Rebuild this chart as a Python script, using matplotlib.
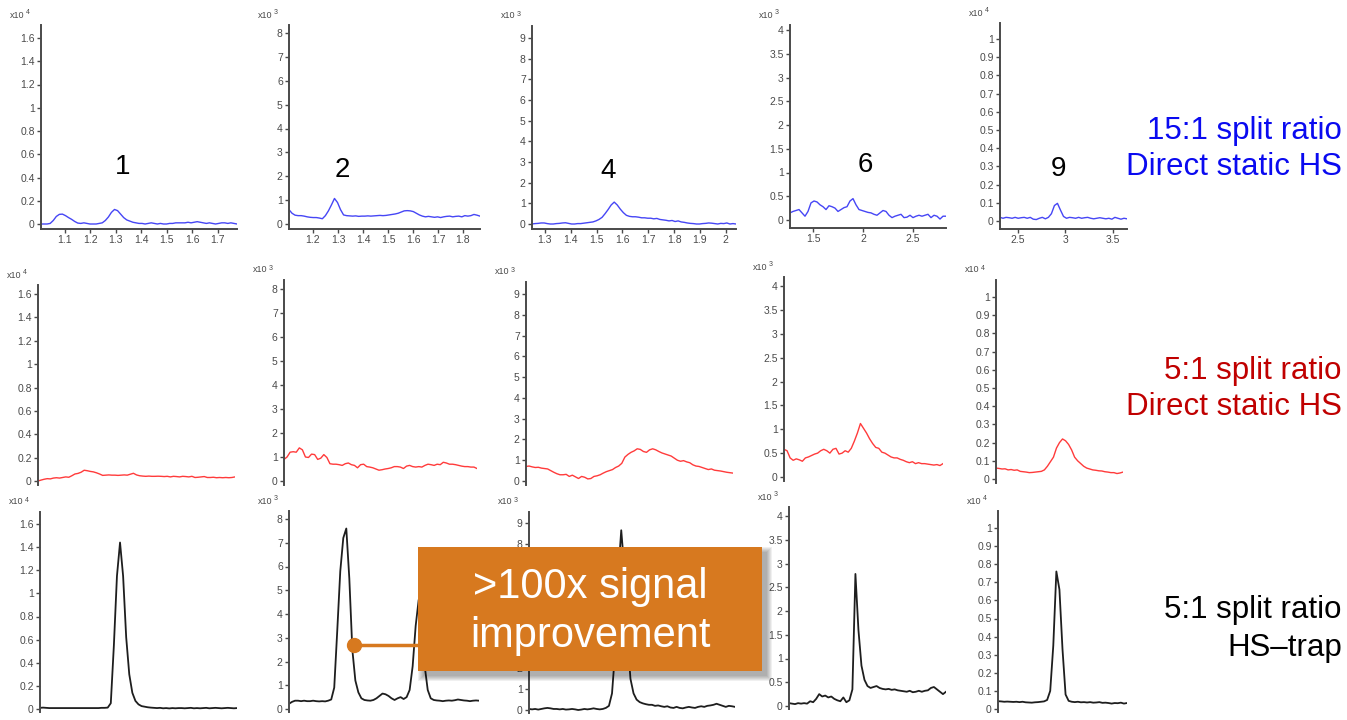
import numpy as np
import matplotlib
matplotlib.use("Agg")
import matplotlib.pyplot as plt
from matplotlib.patches import Rectangle
from matplotlib.lines import Line2D
from matplotlib.ticker import FixedLocator, FuncFormatter

plt.rcParams['font.family'] = ['Liberation Sans', 'DejaVu Sans']

# ---------------- data ----------------
compounds = ["1", "2", "4", "6", "9"]
time_windows = [(1.006, 1.775), (1.104, 1.868), (1.25, 2.04), (1.27, 2.83), (2.31, 3.65)]
y_exponents = ["4", "3", "3", "3", "4"]
y_ticks = [
    [0, 0.2, 0.4, 0.6, 0.8, 1.0, 1.2, 1.4, 1.6],
    [0, 1, 2, 3, 4, 5, 6, 7, 8],
    [0, 1, 2, 3, 4, 5, 6, 7, 8, 9],
    [0, 0.5, 1.0, 1.5, 2.0, 2.5, 3.0, 3.5, 4.0],
    [0, 0.1, 0.2, 0.3, 0.4, 0.5, 0.6, 0.7, 0.8, 0.9, 1.0],
]
x_ticks = [
    [1.1, 1.2, 1.3, 1.4, 1.5, 1.6, 1.7],
    [1.2, 1.3, 1.4, 1.5, 1.6, 1.7, 1.8],
    [1.3, 1.4, 1.5, 1.6, 1.7, 1.8, 1.9, 2.0],
    [1.5, 2.0, 2.5],
    [2.5, 3.0, 3.5],
]
row_titles = [("15:1 split ratio", "Direct static HS"),
              ("5:1 split ratio", "Direct static HS"),
              ("5:1 split ratio", "HS\u2013trap")]
annotation_lines = [">100x signal", "improvement"]

# signal traces (abundance in units of 10^exponent), one list per compound
split15_static = [
    [0.0, 0.0, 0.0, 0.005, 0.03, 0.065, 0.083, 0.085, 0.072, 0.055, 0.04, 0.022, 0.008,
     0.005, 0.01, 0.005, 0.0, 0.0, 0.0, 0.005, 0.01, 0.03, 0.06, 0.1, 0.125, 0.115, 0.085,
     0.055, 0.035, 0.025, 0.015, 0.01, 0.005, 0.005, 0.0, 0.005, 0.01, 0.005, 0.0, 0.005,
     0.0, 0.0, 0.005, 0.005, 0.01, 0.01, 0.01, 0.01, 0.015, 0.01, 0.015, 0.02, 0.015, 0.01,
     0.005, 0.01, 0.005, 0.0, 0.005, 0.01, 0.01, 0.005, 0.01, 0.005, 0.0],
    [0.6, 0.45, 0.37, 0.35, 0.35, 0.33, 0.3, 0.28, 0.27, 0.27, 0.25, 0.22, 0.35, 0.55, 0.8,
     1.07, 0.9, 0.6, 0.38, 0.35, 0.34, 0.33, 0.34, 0.32, 0.33, 0.33, 0.34, 0.33, 0.34, 0.35,
     0.36, 0.35, 0.36, 0.38, 0.4, 0.42, 0.45, 0.5, 0.55, 0.56, 0.55, 0.52, 0.45, 0.38, 0.33,
     0.3, 0.32, 0.3, 0.28, 0.3, 0.27, 0.3, 0.32, 0.33, 0.3, 0.32, 0.33, 0.3, 0.35, 0.33,
     0.35, 0.4, 0.37, 0.33],
    [0.0, 0.02, 0.03, 0.05, 0.05, 0.02, 0.0, 0.0, 0.02, 0.03, 0.05, 0.06, 0.03, 0.0, 0.0,
     0.02, 0.02, 0.04, 0.06, 0.08, 0.1, 0.15, 0.22, 0.32, 0.5, 0.7, 0.92, 1.06, 0.92, 0.72,
     0.55, 0.42, 0.37, 0.35, 0.35, 0.33, 0.3, 0.3, 0.28, 0.28, 0.25, 0.27, 0.22, 0.2, 0.18,
     0.15, 0.17, 0.12, 0.15, 0.1, 0.08, 0.05, 0.03, 0.02, 0.0, 0.0, 0.02, 0.03, 0.05, 0.04,
     0.02, 0.0, 0.03, 0.02, 0.05, 0.0, 0.02, 0.0],
    [0.15, 0.18, 0.2, 0.22, 0.15, 0.08, 0.18, 0.36, 0.4, 0.38, 0.32, 0.28, 0.22, 0.3, 0.28,
     0.25, 0.18, 0.22, 0.26, 0.28, 0.4, 0.45, 0.32, 0.22, 0.2, 0.18, 0.16, 0.15, 0.12, 0.1,
     0.15, 0.2, 0.18, 0.1, 0.05, 0.08, 0.1, 0.12, 0.05, 0.06, 0.1, 0.05, 0.08, 0.1, 0.08,
     0.1, 0.12, 0.05, 0.1, 0.08, 0.02, 0.08, 0.08],
    [0.02, 0.015, 0.02, 0.018, 0.015, 0.02, 0.015, 0.018, 0.02, 0.015, 0.02, 0.01, 0.008,
     0.015, 0.02, 0.012, 0.02, 0.04, 0.085, 0.097, 0.06, 0.025, 0.015, 0.02, 0.018, 0.015,
     0.02, 0.015, 0.018, 0.02, 0.015, 0.012, 0.015, 0.018, 0.015, 0.012, 0.015, 0.01, 0.02,
     0.015, 0.01, 0.015, 0.012],
]
split5_static = [
    [0.0, 0.008, 0.015, 0.02, 0.018, 0.025, 0.028, 0.025, 0.03, 0.035, 0.032, 0.045, 0.06,
     0.065, 0.075, 0.092, 0.088, 0.082, 0.078, 0.07, 0.06, 0.048, 0.05, 0.052, 0.05, 0.05,
     0.048, 0.05, 0.052, 0.05, 0.058, 0.066, 0.052, 0.045, 0.042, 0.04, 0.042, 0.04, 0.04,
     0.041, 0.04, 0.038, 0.04, 0.035, 0.04, 0.038, 0.035, 0.04, 0.038, 0.035, 0.04, 0.03,
     0.032, 0.035, 0.038, 0.03, 0.03, 0.032, 0.028, 0.03, 0.028, 0.03, 0.028, 0.03, 0.035],
    [0.9, 1.0, 1.2, 1.22, 1.2, 1.38, 1.3, 1.0, 0.98, 1.12, 1.1, 0.9, 0.95, 1.1, 0.98, 0.72,
     0.7, 0.7, 0.68, 0.65, 0.72, 0.75, 0.68, 0.65, 0.55, 0.68, 0.7, 0.6, 0.58, 0.55, 0.5,
     0.45, 0.47, 0.5, 0.52, 0.55, 0.6, 0.6, 0.58, 0.52, 0.62, 0.65, 0.6, 0.58, 0.6, 0.58,
     0.65, 0.7, 0.68, 0.65, 0.7, 0.68, 0.78, 0.75, 0.7, 0.7, 0.68, 0.65, 0.62, 0.6, 0.6,
     0.58, 0.58, 0.52],
    [0.7, 0.72, 0.68, 0.65, 0.66, 0.62, 0.6, 0.58, 0.5, 0.42, 0.35, 0.3, 0.3, 0.32, 0.22,
     0.28, 0.2, 0.12, 0.22, 0.18, 0.1, 0.12, 0.22, 0.25, 0.3, 0.38, 0.45, 0.5, 0.55, 0.65,
     0.72, 0.85, 1.15, 1.28, 1.38, 1.45, 1.55, 1.52, 1.42, 1.38, 1.5, 1.55, 1.5, 1.42, 1.35,
     1.3, 1.25, 1.2, 1.1, 1.0, 0.95, 0.98, 0.92, 0.88, 0.78, 0.72, 0.7, 0.65, 0.6, 0.55,
     0.58, 0.52, 0.5, 0.48, 0.45, 0.42, 0.4, 0.38],
    [0.58, 0.55, 0.4, 0.35, 0.38, 0.36, 0.33, 0.4, 0.42, 0.45, 0.48, 0.5, 0.55, 0.58, 0.55,
     0.5, 0.58, 0.6, 0.48, 0.5, 0.55, 0.52, 0.6, 0.75, 0.92, 1.12, 1.02, 0.92, 0.8, 0.7,
     0.62, 0.6, 0.52, 0.5, 0.46, 0.42, 0.4, 0.4, 0.37, 0.35, 0.32, 0.3, 0.32, 0.28, 0.3,
     0.28, 0.28, 0.27, 0.26, 0.25, 0.26, 0.24, 0.28],
    [0.06, 0.058, 0.055, 0.056, 0.05, 0.052, 0.048, 0.05, 0.042, 0.04, 0.038, 0.035, 0.036,
     0.038, 0.04, 0.042, 0.05, 0.07, 0.095, 0.12, 0.17, 0.2, 0.22, 0.21, 0.19, 0.16, 0.12,
     0.1, 0.085, 0.07, 0.06, 0.055, 0.05, 0.048, 0.045, 0.044, 0.04, 0.038, 0.035, 0.035,
     0.03, 0.033, 0.038],
]
split5_trap = [
    [0.01, 0.012, 0.01, 0.008, 0.008, 0.008, 0.008, 0.008, 0.008, 0.008, 0.008, 0.008,
     0.008, 0.008, 0.008, 0.008, 0.008, 0.008, 0.008, 0.008, 0.01, 0.01, 0.012, 0.05, 0.55,
     1.15, 1.44, 1.15, 0.62, 0.3, 0.14, 0.07, 0.04, 0.025, 0.02, 0.015, 0.012, 0.01, 0.008,
     0.01, 0.006, 0.008, 0.005, 0.008, 0.006, 0.008, 0.008, 0.006, 0.008, 0.01, 0.006,
     0.008, 0.006, 0.008, 0.01, 0.006, 0.008, 0.01, 0.008, 0.006, 0.008, 0.01, 0.008,
     0.006, 0.008],
    [0.22, 0.3, 0.35, 0.35, 0.33, 0.35, 0.33, 0.33, 0.35, 0.33, 0.32, 0.33, 0.32, 0.35,
     0.4, 0.9, 3.3, 5.8, 7.2, 7.6, 5.5, 2.5, 1.2, 0.7, 0.45, 0.38, 0.36, 0.35, 0.38, 0.45,
     0.55, 0.65, 0.62, 0.55, 0.45, 0.38, 0.45, 0.5, 0.42, 0.5, 0.8, 1.8, 3.5, 4.6, 4.0, 1.8,
     0.8, 0.45, 0.38, 0.36, 0.35, 0.33, 0.35, 0.36, 0.35, 0.37, 0.4, 0.38, 0.36, 0.35, 0.33,
     0.35, 0.36, 0.35],
    [0.05, 0.03, 0.05, 0.02, 0.05, 0.08, 0.1, 0.08, 0.05, 0.05, 0.03, 0.05, 0.02, 0.03,
     0.05, 0.03, 0.0, 0.02, 0.05, 0.03, 0.05, 0.08, 0.05, 0.03, 0.05, 0.1, 0.2, 0.8, 2.8,
     6.5, 8.65, 6.8, 3.5, 1.5, 0.8, 0.5, 0.38, 0.32, 0.28, 0.25, 0.25, 0.2, 0.22, 0.18, 0.15,
     0.18, 0.12, 0.1, 0.15, 0.1, 0.08, 0.12, 0.15, 0.12, 0.1, 0.15, 0.18, 0.15, 0.2, 0.22,
     0.25, 0.3, 0.25, 0.2, 0.15, 0.2, 0.18, 0.15],
    [0.06, 0.05, 0.04, 0.06, 0.05, 0.06, 0.05, 0.1, 0.08, 0.15, 0.25, 0.2, 0.22, 0.18, 0.2,
     0.15, 0.12, 0.1, 0.18, 0.08, 0.12, 0.35, 2.78, 1.6, 0.85, 0.55, 0.42, 0.38, 0.4, 0.42,
     0.38, 0.36, 0.35, 0.36, 0.34, 0.35, 0.33, 0.32, 0.31, 0.3, 0.32, 0.29, 0.3, 0.32, 0.3,
     0.32, 0.33, 0.38, 0.4, 0.35, 0.3, 0.25, 0.3],
    [0.043, 0.042, 0.04, 0.041, 0.04, 0.039, 0.04, 0.038, 0.04, 0.037, 0.036, 0.035, 0.037,
     0.038, 0.04, 0.042, 0.05, 0.1, 0.35, 0.76, 0.66, 0.33, 0.08, 0.045, 0.04, 0.038, 0.04,
     0.037, 0.038, 0.036, 0.038, 0.035, 0.036, 0.038, 0.034, 0.035, 0.033, 0.03, 0.033,
     0.032, 0.035, 0.03, 0.033],
]
rows = [split15_static, split5_static, split5_trap]

# ---------------- layout / style (pixels) ----------------
W, H = 1347, 720
line_colors = ["#4646F5", "#FF3B3B", "#1E1E1E"]
line_widths = [1.0, 1.0, 1.3]
title_colors = ["#0A0AF0", "#C00000", "#000000"]
title_baselines = [(139, 175), (379, 415), (618, 656)]
# (spine_x, right_x, top_y, bottom_y, zero_tick_y, max_tick_y)
geom = [
    [(41, 237, 25, 229, 224, 38), (289, 480, 25, 229, 224, 33), (532, 736, 26, 229, 224, 38),
     (790, 946, 25, 228, 220, 30), (1000, 1127, 23, 229, 221, 39)],
    [(38, 235, 285, 485, 481, 294), (284, 477, 280, 485, 481, 289), (526, 733, 282, 485, 481, 294),
     (784, 943, 277, 481, 477, 286), (996, 1123, 280, 483, 479, 297)],
    [(40, 237, 512, 712, 709, 524), (289, 479, 511, 712, 709, 519), (529, 735, 512, 713, 710, 523),
     (789, 946, 507, 709, 706, 516), (998, 1127, 511, 712, 709, 528)],
]
compound_label_px = [(123, 167), (342, 170), (608, 171), (865, 165), (1058, 169)]
axis_grey = "#4A4A4A"


def fx(x):
    return x / W


def fy(y):
    return 1 - y / H


fig = plt.figure(figsize=(W / 100, H / 100), dpi=100)
fig.patch.set_facecolor("white")
fmt = FuncFormatter(lambda v, p: f"{v:g}")

for r, traces in enumerate(rows):
    for c, yvals in enumerate(traces):
        sx, rx, ty, by, zy, my = geom[r][c]
        ax = fig.add_axes([fx(sx), fy(by), (rx - sx) / W, (by - ty) / H])
        ax.set_facecolor("none")
        t0, t1 = time_windows[c]
        x = np.linspace(t0, t1, len(yvals))
        ax.plot(x, yvals, color=line_colors[r], lw=line_widths[r], solid_joinstyle="round")
        ymax = y_ticks[c][-1]
        ppu = (zy - my) / ymax
        ax.set_ylim(-(by - zy) / ppu, ymax + (my - ty) / ppu)
        ax.set_xlim(t0, t1)
        ax.yaxis.set_major_locator(FixedLocator(y_ticks[c]))
        ax.yaxis.set_major_formatter(fmt)
        for s in ["top", "right"]:
            ax.spines[s].set_visible(False)
        ax.spines["left"].set_color(axis_grey)
        ax.spines["left"].set_linewidth(1.4)
        ax.tick_params(axis="y", direction="out", length=3, width=1, colors=axis_grey,
                       labelsize=7.5, pad=1.5)
        if r == 0:
            ax.spines["bottom"].set_color(axis_grey)
            ax.spines["bottom"].set_linewidth(1.4)
            ax.xaxis.set_major_locator(FixedLocator(x_ticks[c]))
            ax.xaxis.set_major_formatter(fmt)
            ax.tick_params(axis="x", direction="out", length=3, width=1, colors=axis_grey,
                           labelsize=7.5, pad=1.5)
        else:
            ax.spines["bottom"].set_visible(False)
            ax.set_xticks([])
        # exponent label
        fig.text(fx(sx - 31), fy(ty - 10), "x10", fontsize=6.5, color=axis_grey,
                 ha="left", va="center")
        fig.text(fx(sx - 15), fy(ty - 12), y_exponents[c], fontsize=5, color=axis_grey,
                 ha="left", va="center")

# compound numbers
for (cx, cy), lab in zip(compound_label_px, compounds):
    fig.text(fx(cx), fy(cy), lab, fontsize=20, ha="center", va="center", color="black")

# row titles on the right
for (l1, l2), col, (b1, b2) in zip(row_titles, title_colors, title_baselines):
    fig.text(fx(1342), fy(b1), l1, fontsize=22.5, ha="right", va="baseline", color=col)
    fig.text(fx(1342), fy(b2), l2, fontsize=22.5, ha="right", va="baseline", color=col)

# annotation box with shadow and connector
orange = "#D7791F"
bx0, by0, bx1, by1 = 418, 547, 762, 671
for k in range(6):
    grow = k * 1.0
    fig.add_artist(Rectangle((fx(bx0 + 5 - grow), fy(by1 + 5 + grow)),
                             (bx1 - bx0 + 2 * grow) / W, (by1 - by0 + 2 * grow) / H,
                             transform=fig.transFigure, facecolor="black",
                             edgecolor="none", alpha=0.06, zorder=9))
fig.add_artist(Line2D([fx(354), fx(bx0)], [fy(645), fy(645)], transform=fig.transFigure,
                      color=orange, lw=2.5, zorder=10))
fig.add_artist(Line2D([fx(354)], [fy(645)], transform=fig.transFigure, marker="o",
                      markersize=10, color=orange, zorder=10))
fig.add_artist(Rectangle((fx(bx0), fy(by1)), (bx1 - bx0) / W, (by1 - by0) / H,
                         transform=fig.transFigure, facecolor=orange, edgecolor="none",
                         zorder=11))
fig.text(fx((bx0 + bx1) / 2), fy(598), annotation_lines[0], fontsize=30, color="white",
         ha="center", va="baseline", zorder=12)
fig.text(fx((bx0 + bx1) / 2), fy(647), annotation_lines[1], fontsize=30, color="white",
         ha="center", va="baseline", zorder=12)

fig.savefig("out.png", dpi=100, facecolor="white")
